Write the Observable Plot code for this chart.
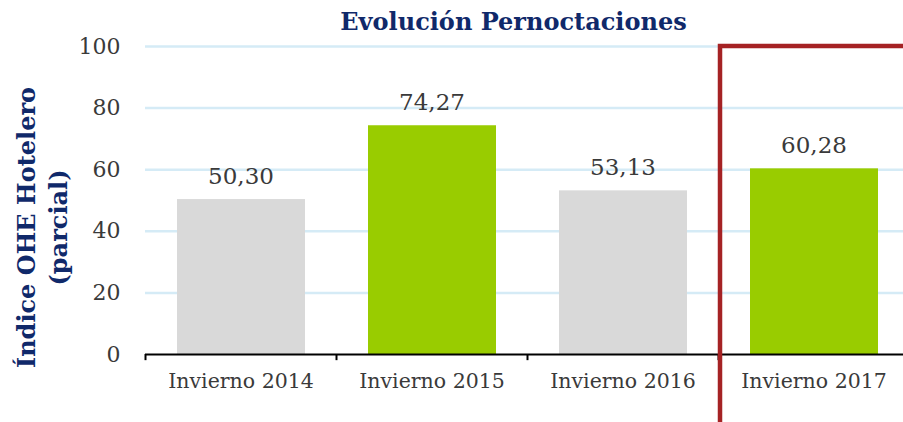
<!DOCTYPE html>
<html>
<head>
<meta charset="utf-8">
<script src="https://cdn.jsdelivr.net/npm/d3@7"></script>
<script src="https://cdn.jsdelivr.net/npm/@observablehq/plot@0.6"></script>
<style>
  html, body { margin: 0; padding: 0; background: #fff; }
  svg { display: block; }
</style>
</head>
<body>
<div id="chart"></div>
<script>
const categories = ["Invierno 2014", "Invierno 2015", "Invierno 2016", "Invierno 2017"];
const values = [50.30, 74.27, 53.13, 60.28];
const barColors = ["#d9d9d9", "#99cc00", "#d9d9d9", "#99cc00"];
const yTicks = [0, 20, 40, 60, 80, 100];
const highlight = ["Invierno 2017"];
const title = "Evolución Pernoctaciones";
const yLabel = "Índice OHE Hotelero\n(parcial)";

const data = categories.map((c, i) => ({cat: c, value: values[i], color: barColors[i]}));
const fmt = v => v.toFixed(2).replace(".", ",");
const FONT = "DejaVu Serif, serif";
const NAVY = "#10296a";

const chart = Plot.plot({
  width: 903,
  height: 422,
  marginLeft: 145,
  marginRight: 0,
  marginTop: 46,
  marginBottom: 68,
  style: {fontFamily: FONT, background: "#fff", color: "#3a3a3a", overflow: "visible"},
  x: {domain: categories, range: [145, 909], padding: 0},
  y: {domain: [0, 100], range: [354, 46]},
  marks: [
    Plot.gridY(yTicks.filter(t => t > 0), {stroke: "#d5ebf6", strokeWidth: 2.5, strokeOpacity: 1}),
    Plot.barY(data, {x: "cat", y: "value", fill: "color", insetLeft: 32, insetRight: 31}),
    Plot.ruleY([0], {stroke: "#000", strokeWidth: 2}),
    Plot.ruleX(categories, {x: d => d, y1: 0, y2: -2, dx: -95.5, stroke: "#000", strokeWidth: 2}),
    Plot.text(data, {x: "cat", y: "value", text: d => fmt(d.value), dy: -23, lineAnchor: "middle", fontSize: 23, fill: "#3a3a3a"}),
    Plot.axisY({ticks: yTicks, tickSize: 0, tickPadding: 25, fontSize: 22, label: null, tickFormat: d => d}),
    Plot.axisX({tickSize: 0, tickPadding: 19, fontSize: 20.5, label: null}),
    Plot.rect(highlight, {x: d => d, y1: 100, y2: -25, dx: 2, dy: 0, stroke: "#a52224", strokeWidth: 4.5, fill: "none", clip: false}),
    Plot.text([title], {frameAnchor: "top", dx: -11, dy: -24, lineAnchor: "middle", fontSize: 24, fontWeight: "bold", fill: NAVY}),
    Plot.text([yLabel], {frameAnchor: "left", textAnchor: "middle", dx: -104.5, dy: 27, rotate: -90, lineAnchor: "middle", lineHeight: 1.33, fontSize: 24, fontWeight: "bold", fill: NAVY})
  ]
});
document.getElementById("chart").appendChild(chart);
</script>
</body>
</html>
